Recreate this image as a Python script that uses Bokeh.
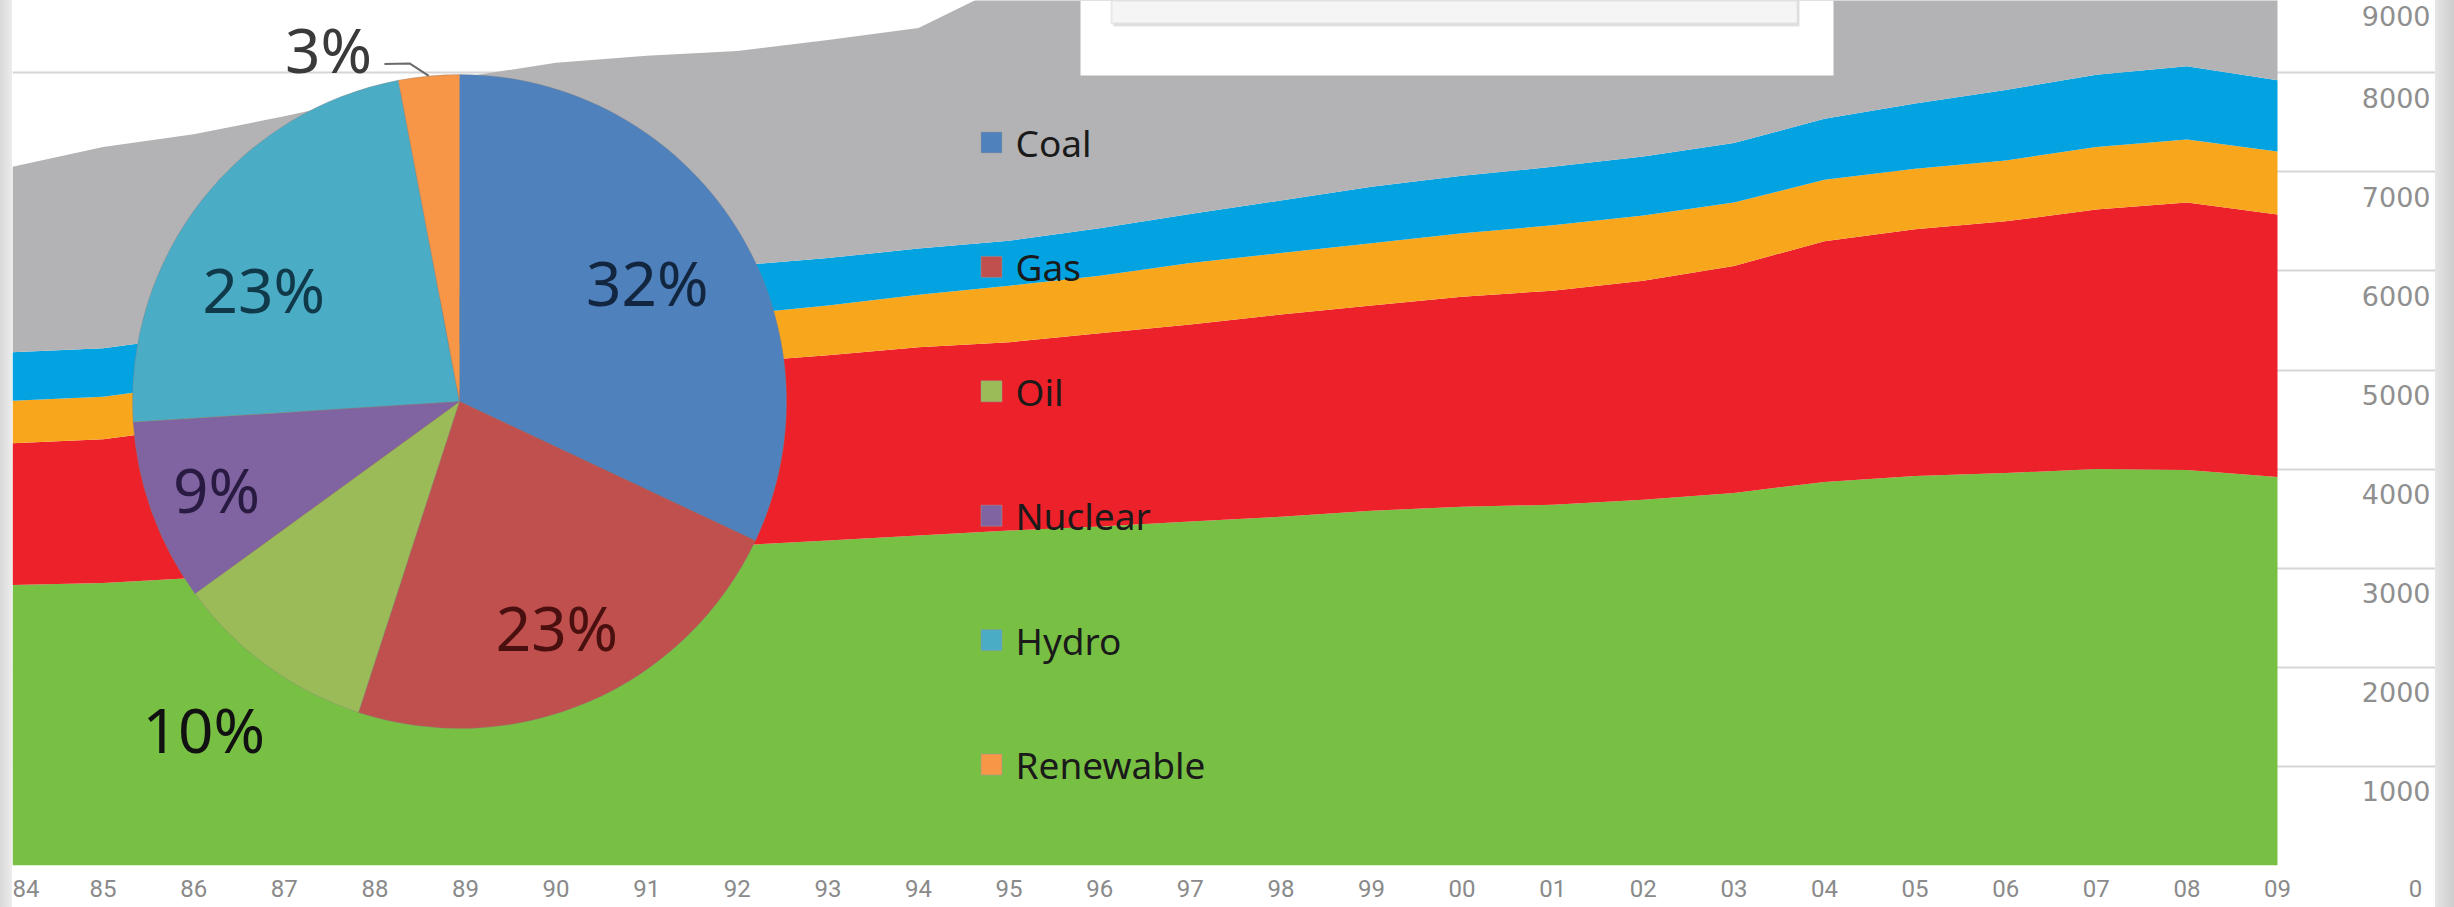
import numpy as np
from bokeh.plotting import figure
from bokeh.models import (ColumnDataSource, Range1d, LinearAxis, FixedTicker, Grid,
                          LabelSet, BoxAnnotation)
from bokeh.layouts import column
from bokeh.embed import file_html
from bokeh.resources import INLINE
from bokeh.core.properties import value

# ---------------------------------------------------------------- data
years = list(range(1984, 2010))
year_labels = ["84", "85", "86", "87", "88", "89", "90", "91", "92", "93", "94", "95", "96",
               "97", "98", "99", "00", "01", "02", "03", "04", "05", "06", "07", "08", "09"]

# stacked layers, bottom to top
layer_green = [2830, 2850, 2900, 2980, 3060, 3120, 3170, 3180, 3230, 3280, 3330, 3380, 3420,
               3470, 3520, 3580, 3620, 3640, 3690, 3760, 3870, 3930, 3960, 4000, 3990, 3920]
layer_red = [1430, 1450, 1520, 1580, 1640, 1700, 1750, 1810, 1850, 1870, 1900, 1900, 1950,
             1990, 2040, 2070, 2120, 2160, 2210, 2290, 2430, 2490, 2540, 2620, 2700, 2650]
layer_orange = [430, 430, 430, 430, 440, 450, 460, 460, 480, 500, 530, 570, 580,
                620, 620, 630, 640, 660, 660, 640, 620, 610, 615, 630, 635, 635]
layer_blue = [490, 490, 490, 495, 495, 500, 500, 500, 495, 480, 465, 455, 480,
              495, 530, 570, 580, 590, 595, 600, 615, 660, 710, 730, 740, 720]
layer_grey = [1870, 2030, 2040, 2075, 2125, 2190, 2220, 2220, 2165, 2200, 2225, 2595, 2620,
              2625, 2540, 2550, 2590, 2600, 2645, 2810, 2965, 3110, 3175, 3220, 3235, 3275]

y_ticks = [0, 1000, 2000, 3000, 4000, 5000, 6000, 7000, 8000, 9000]

pie_labels = ["Coal", "Gas", "Oil", "Nuclear", "Hydro", "Renewable"]
pie_shares = [32, 23, 10, 9, 23, 3]

# ---------------------------------------------------------------- styling
area_colors = ["#78c043", "#ec2129", "#f8a61c", "#03a2e0", "#b3b3b5"]
pie_colors = ["#4f81bd", "#c0504d", "#9bbb59", "#8064a2", "#4bacc6", "#f79646"]
pie_text_colors = ["#132640", "#4a1010", "#111111", "#281a40", "#10394a", "#3a3a3a"]
pie_label_radius = [0.68, 0.75, 1.27, 0.79, 0.69, 1.15]
pie_label_turn = [0, 0, 2, 0, -8, -15]

FRAME_W, FRAME_H = 2423, 865
PX_PER_YEAR = 90.6
PX_PER_UNIT = 0.0991
X_START = years[0]
X_END = X_START + FRAME_W / PX_PER_YEAR
Y_END = FRAME_H / PX_PER_UNIT


def to_x(px):
    return X_START + px / PX_PER_YEAR


def to_y(py):
    return Y_END - py / PX_PER_UNIT


p = figure(frame_width=FRAME_W, frame_height=FRAME_H,
           x_range=Range1d(X_START, X_END), y_range=Range1d(0, Y_END),
           x_axis_type=None, y_axis_type=None,
           toolbar_location=None, output_backend="svg",
           min_border_left=0, min_border_right=0, min_border_top=0, min_border_bottom=42,
           outline_line_color=None, background_fill_color="white",
           border_fill_color="white")
p.margin = (0, 19, 0, 12)

grid = Grid(dimension=1, ticker=FixedTicker(ticks=y_ticks),
            grid_line_color="#d6d6d6", grid_line_width=2)
p.add_layout(grid, "center")

# stacked areas
stack_names = ["green", "red", "orange", "blue", "grey"]
src = ColumnDataSource(dict(year=years, green=layer_green, red=layer_red,
                            orange=layer_orange, blue=layer_blue, grey=layer_grey))
p.varea_stack(stackers=stack_names, x="year", color=area_colors, source=src)

# right-hand value column: x position of the value labels
VALUE_COL_X = round(to_x(2403), 3)

# x axis: two-digit years, plus the zero of the value column on the same row
x_ticks = years + [VALUE_COL_X]
x_over = {y: l for y, l in zip(years, year_labels)}
x_over[VALUE_COL_X] = str(y_ticks[0])
xaxis = LinearAxis(ticker=FixedTicker(ticks=x_ticks), major_label_overrides=x_over)
xaxis.axis_line_color = None
xaxis.major_tick_line_color = None
xaxis.minor_tick_line_color = None
xaxis.major_label_standoff = 8
xaxis.major_label_text_font = "Roboto"
xaxis.major_label_text_font_size = "24px"
xaxis.major_label_text_color = "#8a8a8a"
p.add_layout(xaxis, "below")

# value labels sitting just under each gridline, right side
# (kept inside the frame at the very top)
ylab_y = [min(t - 25 / PX_PER_UNIT, Y_END - 15 / PX_PER_UNIT) for t in y_ticks[1:]]
ylab_src = ColumnDataSource(dict(
    x=[to_x(2418)] * (len(y_ticks) - 1),
    y=ylab_y,
    text=[str(t) for t in y_ticks[1:]]))
p.add_layout(LabelSet(x="x", y="y", text="text", source=ylab_src,
                      text_align="right", text_baseline="middle",
                      text_font=value("DejaVu Sans"), text_font_size="27px",
                      text_color="#8f8f8f"))

# pie overlay
PIE_CX, PIE_CY, PIE_R = 447, 401, 327
shares = np.array(pie_shares, dtype=float)
shares = shares / shares.sum()
cum = np.concatenate([[0.0], np.cumsum(shares)])
start = np.pi / 2 - 2 * np.pi * cum[:-1]
end = np.pi / 2 - 2 * np.pi * cum[1:]
mid_deg = (cum[:-1] + cum[1:]) / 2 * 360.0

pie_src = ColumnDataSource(dict(start=start, end=end, color=pie_colors, name=pie_labels))
p.wedge(x=to_x(PIE_CX), y=to_y(PIE_CY), radius=PIE_R, radius_units="screen",
        start_angle="start", end_angle="end", direction="clock",
        fill_color="color", line_color="#808080", line_alpha=0.35, line_width=1,
        source=pie_src)

lx, ly = [], []
for m, f, t in zip(mid_deg, pie_label_radius, pie_label_turn):
    th = np.radians(m + t)
    lx.append(to_x(PIE_CX + PIE_R * f * np.sin(th)))
    ly.append(to_y(PIE_CY - PIE_R * f * np.cos(th)))
pct_text = ["%d%%" % v for v in pie_shares]
p.text(x=lx, y=ly, text=pct_text, text_color=pie_text_colors,
       text_align="center", text_baseline="middle",
       text_font=value("Noto Sans"), text_font_size="62px")

# leader line for the smallest slice
k = len(pie_shares) - 1
th = np.radians(mid_deg[k])
th2 = np.radians(mid_deg[k] - 3)
lab_th = np.radians(mid_deg[k] + pie_label_turn[k])
lab_px = PIE_CX + PIE_R * pie_label_radius[k] * np.sin(lab_th)
lab_py = PIE_CY - PIE_R * pie_label_radius[k] * np.cos(lab_th)
lead_px = [PIE_CX + PIE_R * np.sin(th), PIE_CX + PIE_R * 1.045 * np.sin(th2), lab_px + 56]
lead_py = [PIE_CY - PIE_R * np.cos(th), PIE_CY - PIE_R * 1.045 * np.cos(th2), lab_py + 15]
p.line(x=[to_x(v) for v in lead_px], y=[to_y(v) for v in lead_py],
       line_color="#6b6b6b", line_width=2)

# pie legend
LEG_X, LEG_Y0, LEG_STEP = 979, 142, 124.4
leg_y = [to_y(LEG_Y0 + LEG_STEP * i) for i in range(len(pie_labels))]
p.scatter(x=[to_x(LEG_X)] * len(pie_labels), y=leg_y, marker="square", size=21,
          fill_color=pie_colors, line_color="#9a9a9a", line_alpha=0.5)
p.text(x=[to_x(LEG_X + 24)] * len(pie_labels), y=leg_y, text=pie_labels,
       text_color="#1a1a1a", text_align="left", text_baseline="middle",
       text_font=value("Noto Sans"), text_font_size="37px")

# caption box at the top edge
p.add_layout(BoxAnnotation(left=to_x(1068), right=to_x(1821), top=Y_END, bottom=to_y(75),
                           fill_color="white", fill_alpha=1.0, line_alpha=0))
p.add_layout(BoxAnnotation(left=to_x(1101), right=to_x(1787), top=Y_END, bottom=to_y(26),
                           fill_color="#cfcfcf", fill_alpha=0.6, line_alpha=0))
p.add_layout(BoxAnnotation(left=to_x(1099), right=to_x(1785), top=Y_END, bottom=to_y(23),
                           fill_color="#f5f5f5", fill_alpha=1.0,
                           line_color="#c4c4c4", line_width=2))

page = column(p, styles={"background": "linear-gradient(to right, #d9d9d9 0px, #ececec 12px, "
                                       "#ffffff 12px, #ffffff 2435px, #e6e6e6 2435px, #cdcdcd 2454px)"})

open("out.html", "w").write(file_html(page, INLINE))
